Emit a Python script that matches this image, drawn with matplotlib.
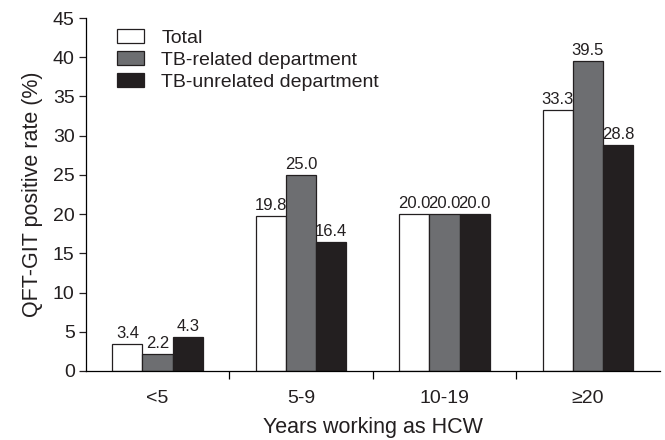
import numpy as np
import matplotlib
matplotlib.use('Agg')
import matplotlib.pyplot as plt

#Chart data
categories = ['<5', '5-9', '10-19', '≥20']
series_names = ['Total', 'TB-related department', 'TB-unrelated department']
total = [3.4, 19.8, 20.0, 33.3]
tb_related = [2.2, 25.0, 20.0, 39.5]
tb_unrelated = [4.3, 16.4, 20.0, 28.8]
colors = ['white', '#6d6e71', '#231f20']

plt.rcParams['font.family'] = ['Liberation Sans', 'DejaVu Sans']

fig = plt.figure(figsize=(6.65, 4.4), dpi=100)
ax = fig.add_axes([0.129, 0.157, 0.863, 0.802])

x = np.arange(len(categories))
width = 0.21
for i, (vals, name, col) in enumerate(zip([total, tb_related, tb_unrelated], series_names, colors)):
    pos = x + (i - 1) * width
    ax.bar(pos, vals, width, color=col, edgecolor='#231f20', linewidth=0.9, label=name)
    for p, v in zip(pos, vals):
        ax.text(p, v + 0.4, f'{v:.1f}', ha='center', va='bottom', fontsize=12, color='#231f20')

ax.set_xlim(-0.5, 3.5)
ax.set_ylim(0, 45)
ax.set_yticks(range(0, 46, 5))
ax.set_xticks(x)
ax.set_xticklabels(categories)
ax.set_xticks([0.5, 1.5, 2.5], minor=True)
ax.tick_params(axis='x', which='major', length=0, pad=14, labelsize=14, colors='#231f20')
ax.tick_params(axis='x', which='minor', length=6, direction='out', width=0.9)
ax.tick_params(axis='y', length=5, width=0.9, pad=3, labelsize=14, colors='#231f20')
ax.spines['top'].set_visible(False)
ax.spines['right'].set_visible(False)
ax.spines['left'].set_linewidth(0.9)
ax.spines['bottom'].set_linewidth(0.9)

ax.set_xlabel('Years working as HCW', fontsize=15.5, labelpad=7, color='#231f20')
ax.set_ylabel('QFT-GIT positive rate (%)', fontsize=15.5, labelpad=7, color='#231f20')

leg = ax.legend(loc='upper left', bbox_to_anchor=(0.04, 0.99), frameon=False, fontsize=14,
                handlelength=1.4, handleheight=0.72, handletextpad=0.9, labelspacing=0.22,
                borderaxespad=0)
for t in leg.get_texts():
    t.set_color('#231f20')

fig.savefig('out.png', dpi=100)
